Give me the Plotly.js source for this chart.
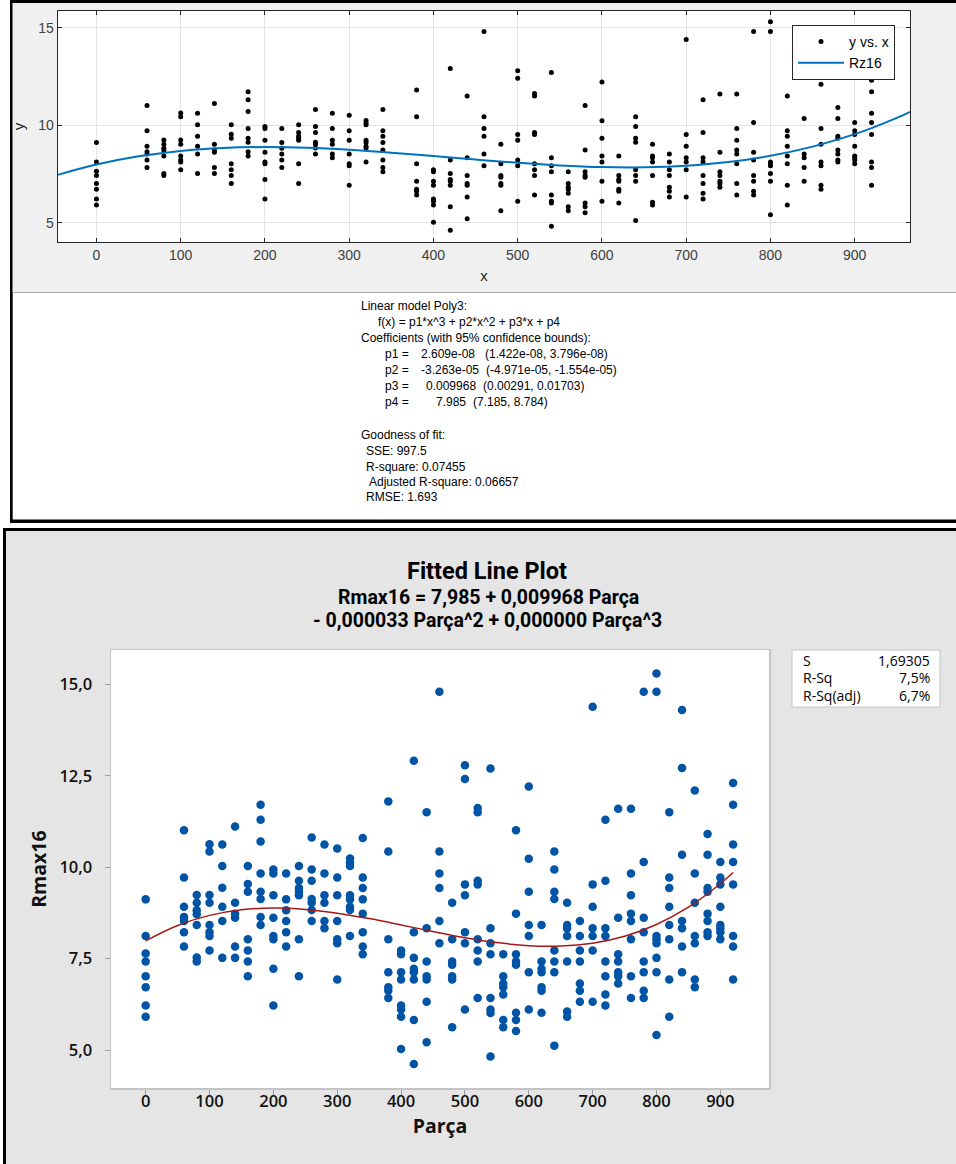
<!DOCTYPE html>
<html><head><meta charset="utf-8">
<script src="https://cdn.plot.ly/plotly-3.0.1.min.js"></script>
<style>html,body{margin:0;padding:0;background:#fff;} #chart{width:956px;height:1164px;}</style>
</head><body><div id="chart"></div>
<script>
// ---------- data ----------
const parcaGroups = [0,60,80,100,120,140,160,180,200,220,240,260,280,300,320,340,380,400,420,440,460,480,500,520,540,560,580,600,620,640,660,680,700,720,740,760,780,800,820,840,860,880,900,920];
const rmaxValues = [
 [9.12,8.12,7.64,7.42,7.02,6.72,6.22,5.91],
 [11.01,9.72,8.92,8.64,8.53,8.22,7.83],
 [9.24,9.03,8.82,8.71,8.42,7.53,7.42],
 [10.63,10.43,9.24,9.03,8.42,8.22,8.12,7.72],
 [10.62,10.03,9.44,8.92,8.53,7.52],
 [11.11,9.03,8.73,8.62,7.83,7.52],
 [10.03,9.54,9.33,8.03,7.72,7.42,7.02],
 [11.71,11.30,10.70,9.83,9.33,9.13,8.64,8.42],
 [9.94,9.83,9.23,8.62,8.12,8.03,7.22,6.22],
 [9.83,9.12,8.82,8.53,8.22,7.83],
 [10.03,9.63,9.43,9.33,9.23,8.03,7.02],
 [10.81,9.94,9.63,9.13,9.03,8.83,8.53],
 [10.62,9.83,9.23,9.03,8.53,8.33],
 [10.51,9.72,9.23,8.53,8.03,7.92,6.93],
 [10.24,10.12,10.03,9.23,9.12,8.92,8.83,8.12],
 [10.80,9.72,9.43,9.12,8.73,8.22,7.83,7.62],
 [11.80,10.43,8.03,7.13,6.72,6.62,6.42],
 [7.72,7.62,7.13,6.93,6.22,6.11,5.91,5.03],
 [12.91,8.22,7.52,7.22,7.13,6.93,5.82,4.62],
 [11.5,8.33,7.42,7.02,6.93,6.32,5.21],
 [14.8,10.43,9.83,9.43,8.53,7.92],
 [9.03,8.03,7.42,7.33,7.02,6.93,5.62],
 [12.79,12.41,9.53,9.23,8.22,7.92,6.11],
 [11.62,11.5,9.63,9.53,8.03,7.72,7.42,6.42],
 [12.7,8.33,7.92,7.62,6.42,6.11,6.01,4.82],
 [7.62,7.02,6.82,6.72,6.52,5.82,5.62],
 [11.01,8.73,7.62,7.42,7.33,6.02,5.82,5.52],
 [12.21,10.23,9.33,8.42,8.12,7.13,6.11],
 [8.42,7.42,7.22,7.13,6.72,6.62,6.02],
 [10.43,9.94,9.33,9.13,7.72,7.42,7.13,5.12],
 [9.03,8.42,8.33,8.12,7.42,6.05,5.91],
 [8.53,8.12,7.72,7.42,6.82,6.62,6.32],
 [14.39,9.53,8.92,8.33,8.12,7.72,6.32],
 [11.3,9.63,8.33,8.12,7.42,7.02,6.52,6.22],
 [11.6,8.62,7.62,7.42,7.13,7.02,6.82],
 [11.6,9.83,9.23,8.73,8.53,8.03,7.02,6.42],
 [14.8,10.14,8.62,8.22,7.42,7.13,6.62,6.42],
 [15.3,14.8,8.12,8.03,7.92,7.52,7.13,5.41],
 [11.5,9.72,9.43,8.92,8.42,8.03,6.93,5.91],
 [14.3,12.71,10.34,8.53,8.33,7.83,7.13],
 [12.1,9.83,9.03,8.12,7.92,6.93,6.72],
 [10.91,10.34,9.43,9.33,8.73,8.53,8.22,8.12],
 [10.14,9.72,9.53,8.92,8.42,8.33,8.22,8.03],
 [12.3,11.71,10.62,10.14,9.53,8.12,7.83,6.93]
];
const fitX = [-46,0,50,100,150,200,250,300,350,400,450,500,550,600,650,700,750,800,850,900,920,950,966];
const fitY = [7.455,7.985,8.405,8.682,8.834,8.882,8.845,8.743,8.595,8.421,8.240,8.073,7.938,7.854,7.843,7.923,8.113,8.434,8.905,9.546,9.853,10.375,10.684];
const xTicks = [0,100,200,300,400,500,600,700,800,900];
const yTicksTop = [5,10,15];
const yTicksBottom = [5,7.5,10,12.5,15];
const yTickTextBottom = ['5,0','7,5','10,0','12,5','15,0'];
const statLabels = ['S','R-Sq','R-Sq(adj)'];
const statValues = ['1,69305','7,5%','6,7%'];
const titleLines = ['Fitted Line Plot','Rmax16 = 7,985 + 0,009968 Parça','- 0,000033 Parça^2 + 0,000000 Parça^3'];
const modelLines = ['Linear model Poly3:','f(x) = p1*x^3 + p2*x^2 + p3*x + p4','Coefficients (with 95% confidence bounds):'];
const coefNames = ['p1 =','p2 =','p3 =','p4 ='];
const coefValues = ['2.609e-08','-3.263e-05','0.009968','7.985'];
const coefBounds = ['(1.422e-08, 3.796e-08)','(-4.971e-05, -1.554e-05)','(0.00291, 0.01703)','(7.185, 8.784)'];
const gofLines = ['Goodness of fit:','SSE: 997.5','R-square: 0.07455','Adjusted R-square: 0.06657','RMSE: 1.693'];

// ---------- build ----------
const W = 956, H = 1164;
const px = x => x / W;
const py = y => 1 - y / H;

const xs = [], ys = [];
parcaGroups.forEach((g, i) => rmaxValues[i].forEach(v => { xs.push(g); ys.push(v); }));
const fitXb = [], fitYb = [];
fitX.forEach((x, i) => { if (x >= 0 && x <= 920) { fitXb.push(x); fitYb.push(fitY[i]); } });

const traces = [
  {x: xs, y: ys, type: 'scatter', mode: 'markers', name: 'y vs. x', xaxis: 'x', yaxis: 'y',
   marker: {color: '#000000', size: 5}},
  {x: fitX, y: fitY, type: 'scatter', mode: 'lines', name: 'Rz16', xaxis: 'x', yaxis: 'y',
   line: {color: '#0072BD', width: 2, shape: 'spline'}},
  {x: xs, y: ys, type: 'scatter', mode: 'markers', name: 'Rmax16', xaxis: 'x2', yaxis: 'y2', showlegend: false,
   marker: {color: '#0054A6', size: 8.5}},
  {x: fitXb, y: fitYb, type: 'scatter', mode: 'lines', name: 'Fit', xaxis: 'x2', yaxis: 'y2', showlegend: false,
   line: {color: '#A31919', width: 1.5, shape: 'spline'}}
];

function rect(x0, y0, x1, y1, fill, lineColor, lw) {
  return {type: 'rect', xref: 'paper', yref: 'paper', layer: 'below',
    x0: px(x0), x1: px(x1), y0: py(y1), y1: py(y0), fillcolor: fill,
    line: lineColor ? {color: lineColor, width: lw || 1} : {width: 0}};
}
const shapes = [
  rect(10, 0, 956, 523, '#000000'),
  rect(12.7, 3, 956, 519.5, '#ffffff'),
  rect(12.7, 3, 956, 292, '#f0f0f0'),
  rect(12.7, 292, 956, 293, '#a8a8a8'),
  rect(57.7, 10.7, 910.3, 242.3, '#ffffff'),
  rect(3, 528, 956, 1164, '#000000'),
  rect(6, 531, 956, 1164, '#e5e5e5'),
  rect(111, 650, 769, 1088.3, '#ffffff'),
  rect(792, 650, 940, 707, '#ffffff', '#c4c4c4', 1)
];

const ann = [];
const txtFont = {family: 'Liberation Sans, Arial, sans-serif', size: 12, color: '#000000'};
function addText(text, x, y, font, xanchor) {
  ann.push({text: text, xref: 'paper', yref: 'paper', x: px(x), y: py(y), xanchor: xanchor || 'left', yanchor: 'middle', showarrow: false, font: font});
}
const dx = -2.5;
addText(modelLines[0], 361.7 + dx, 306, txtFont);
addText(modelLines[1], 378.3 + dx, 322, txtFont);
addText(modelLines[2], 361.7 + dx, 338, txtFont);
const coefY = [354, 370, 386, 402];
const valX = [421.7, 421.7, 426, 436.7];
const bndX = [485, 486, 483.3, 473.3];
coefNames.forEach((n, i) => {
  addText(n, 385 + dx, coefY[i], txtFont);
  addText(coefValues[i], valX[i] + dx, coefY[i], txtFont);
  addText(coefBounds[i], bndX[i] + dx, coefY[i], txtFont);
});
const gofY = [435, 451, 467, 482, 497];
const gofX = [361.7, 366.7, 366.7, 369, 366.7];
gofLines.forEach((t, i) => addText(t, gofX[i] + dx, gofY[i], txtFont));

const mtbFont = 'Open Sans, Noto Sans, sans-serif';
const ttlFont = 'Roboto, Open Sans, sans-serif';
addText(titleLines[0], 487, 570.5, {family: ttlFont, size: 23.5, color: '#000', weight: 'bold'}, 'center');
addText(titleLines[1], 488, 597, {family: ttlFont, size: 19.5, color: '#000', weight: 'bold'}, 'center');
addText(titleLines[2], 487, 620, {family: ttlFont, size: 19.5, color: '#000', weight: 'bold'}, 'center');
const statY = [660, 677.5, 695];
statLabels.forEach((s, i) => {
  addText(s, 801, statY[i], {family: mtbFont, size: 14, color: '#000', weight: 500}, 'left');
  addText(statValues[i], 932, statY[i], {family: mtbFont, size: 14, color: '#000', weight: 500}, 'right');
});

const mlFont = {family: 'Liberation Sans, Arial, sans-serif', size: 14, color: '#404040'};
const layout = {
  width: W, height: H, margin: {l: 0, r: 0, t: 0, b: 0},
  paper_bgcolor: '#ffffff', plot_bgcolor: 'rgba(0,0,0,0)',
  showlegend: true,
  legend: {x: px(792), y: py(25), xanchor: 'left', yanchor: 'top', bgcolor: '#ffffff',
    bordercolor: '#262626', borderwidth: 1, font: {family: 'Liberation Sans, Arial, sans-serif', size: 14, color: '#000'},
    itemwidth: 46, tracegroupgap: 0},
  xaxis: {domain: [px(57.7), px(910.3)], range: [-46, 966], anchor: 'y', tickmode: 'array', tickvals: xTicks,
    ticks: 'inside', ticklen: 4, tickcolor: '#262626', showline: true, linecolor: '#262626', linewidth: 1,
    mirror: 'ticks', showgrid: true, gridcolor: '#e3e3e3', zeroline: false, tickfont: mlFont,
    title: {text: 'x', font: {family: 'Liberation Sans, Arial, sans-serif', size: 15, color: '#262626'}, standoff: 8}, automargin: false},
  yaxis: {domain: [py(242.3), py(10.7)], range: [4.0, 15.87], anchor: 'x', tickmode: 'array', tickvals: yTicksTop,
    ticks: 'inside', ticklen: 4, tickcolor: '#262626', showline: true, linecolor: '#262626', linewidth: 1,
    mirror: 'ticks', showgrid: true, gridcolor: '#e3e3e3', zeroline: false, tickfont: mlFont,
    title: {text: 'y', font: {family: 'Liberation Sans, Arial, sans-serif', size: 15, color: '#262626'}, standoff: 10}, automargin: false},
  xaxis2: {domain: [px(111), px(769)], range: [-54.3, 976.2], anchor: 'y2', tickmode: 'array', tickvals: xTicks,
    ticks: 'outside', ticklen: 5, tickcolor: '#9a9a9a', showline: true, linecolor: '#c4c4c4', linewidth: 1.5,
    mirror: true, showgrid: false, zeroline: false,
    tickfont: {family: mtbFont, size: 16.5, color: '#111', weight: 600}, ticklabelstandoff: -8,
    title: {text: 'Parça', font: {family: mtbFont, size: 19.5, color: '#111', weight: 'bold'}, standoff: 1}, automargin: false},
  yaxis2: {domain: [py(1088.3), py(650)], range: [3.953, 15.94], anchor: 'x2', tickmode: 'array',
    tickvals: yTicksBottom, ticktext: yTickTextBottom,
    ticks: 'outside', ticklen: 5, tickcolor: '#9a9a9a', showline: true, linecolor: '#c4c4c4', linewidth: 1.5,
    mirror: true, showgrid: false, zeroline: false,
    tickfont: {family: mtbFont, size: 16.5, color: '#111', weight: 600}, ticklabelstandoff: 9,
    title: {text: 'Rmax16', font: {family: mtbFont, size: 19.5, color: '#111', weight: 'bold'}, standoff: 7}, automargin: false},
  shapes: shapes,
  annotations: ann
};
Plotly.newPlot('chart', traces, layout, {displayModeBar: false, staticPlot: true});
</script></body></html>
